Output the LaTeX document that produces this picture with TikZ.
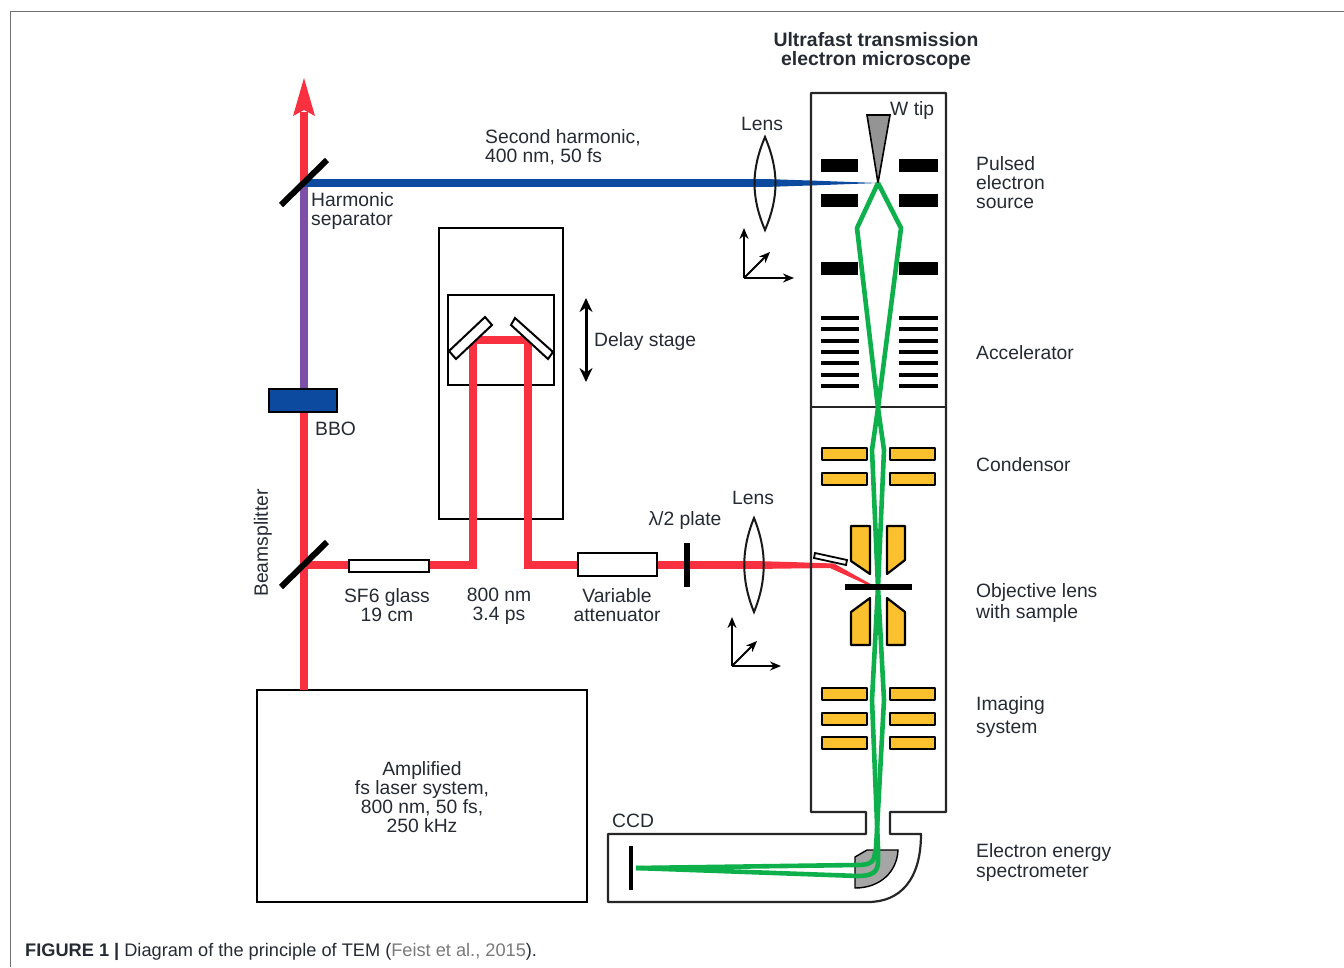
\documentclass[tikz,border=0pt]{standalone}
\usepackage{fontspec}
\setmainfont{Liberation Sans}
\usetikzlibrary{arrows.meta}
\definecolor{redbeam}{HTML}{F9303F}
\definecolor{bluebeam}{HTML}{0B4A9E}
\definecolor{purplebeam}{HTML}{7D4FA8}
\definecolor{greenbeam}{HTML}{0DB04B}
\definecolor{gold}{HTML}{FBC02D}
\definecolor{txt}{HTML}{262B33}
\definecolor{framegray}{HTML}{707070}
\definecolor{citegray}{HTML}{7A7A7A}
\tikzset{
  x=1pt,y=-1pt,
  lbl/.style={font=\fontsize{19.3}{19}\selectfont,text=txt,inner sep=0pt,align=center},
  lbll/.style={lbl,align=left,anchor=west},
  box/.style={draw=black,line width=2pt},
  housing/.style={draw=black!85,line width=2.2pt},
  redb/.style={draw=redbeam,line width=8pt,line cap=butt,line join=miter},
  greenb/.style={draw=greenbeam,line width=4.6pt,line join=round},
  goldbox/.style={draw=black,line width=2.2pt,fill=gold,line join=round},
  blackbar/.style={fill=black},
  axis/.style={draw=black,line width=2pt,-{Stealth[length=11pt,width=9pt]}},
  lensshape/.style={draw=black!90,line width=2pt,fill=none},
  mirror/.style={draw=black,line width=6pt},
}
\begin{document}
\begin{tikzpicture}
\useasboundingbox (0,0) rectangle (1344,967);
\fill[white] (0,0) rectangle (1344,967);
% page frame
\draw[framegray,line width=1pt] (1344,11) -- (10,11) -- (10,967);
% laser box
\draw[box] (257,690) rectangle (587,902);
% delay stage boxes
\draw[box] (439,228) rectangle (563,519);
\draw[box] (448,295) rectangle (554,385);
% left beam line
\draw[redb] (304,690) -- (304,389);
\draw[draw=purplebeam,line width=8pt] (304,389) -- (304,183);
\draw[redb] (304,183) -- (304,112);
\fill[redbeam] (304,78) -- (315,116) -- (304,110) -- (293,116) -- cycle;
\draw[draw=bluebeam,line width=8pt] (304,183) -- (765,183);
\fill[bluebeam] (765,179) -- (810,180.5) -- (878,183) -- (810,185.5) -- (765,187) -- cycle;
\draw[black,line width=1.5pt,fill=bluebeam] (269,389) rectangle (337,412);
% red path with delay
\draw[redb] (304,565) -- (473,565) -- (473,340) -- (528,340) -- (528,565) -- (754,565);
\fill[redbeam] (754,561) -- (790,562) -- (834,563.5) -- (876,587) -- (874,588) -- (830,568) -- (790,568.5) -- (754,569) -- cycle;
% mirrors of delay stage
\draw[black,line width=2pt,fill=white] (485,317) -- (492,325) -- (456,359) -- (449,351) -- cycle;
\draw[black,line width=2pt,fill=white] (515,318) -- (553,352) -- (548,359) -- (511,325) -- cycle;
% delay arrow
\draw[black,line width=3pt,{Stealth[length=14pt,width=13pt]}-{Stealth[length=14pt,width=13pt]}] (586,298) -- (586,382);
% optics on the beams
\draw[mirror] (281,205) -- (327,160);
\draw[mirror] (281,587) -- (327,542);
\draw[box,fill=white] (349,560) rectangle (429,572);
\draw[box,fill=white] (578,553) rectangle (657,576);
\draw[black,line width=6pt] (687,543) -- (687,587);
% lenses
\draw[lensshape] (765,137) .. controls (751,170) and (751,197) .. (765,230) .. controls (779,197) and (779,170) .. (765,137) -- cycle;
\draw[lensshape] (754,518) .. controls (741,550) and (741,580) .. (754,612) .. controls (767,580) and (767,550) .. (754,518) -- cycle;
% axes
\coordinate (ax1) at (744,278);
\coordinate (ax2) at (732,666);
\draw[axis] (ax1) -- (744,228);
\draw[axis] (ax1) -- (794,278);
\draw[axis] (ax1) -- (770,252);
\draw[axis] (ax2) -- (732,617);
\draw[axis] (ax2) -- (781,666);
\draw[axis] (ax2) -- (757,641);
% spectrometer housing and column
\draw[housing,line join=round] (866,812) -- (811,812) -- (811,93) -- (946,93) -- (946,812) -- (890,812) -- (890,834) -- (921,834)
  .. controls (921,880) and (900,902) .. (868,902) -- (608,902) -- (608,834) -- (866,834) -- cycle;
\draw[housing] (811,407) -- (946,407);
% column elements
\foreach \y in {159,194,262}{
  \fill[blackbar] (821,\y) rectangle (858,\y+13);
  \fill[blackbar] (899,\y) rectangle (938,\y+13);
}
\foreach \y in {318,329.3,340.6,351.9,363.2,374.5,385.8}{
  \fill[blackbar] (821,\y-2) rectangle (859,\y+2);
  \fill[blackbar] (899,\y-2) rectangle (938,\y+2);
}
\foreach \y in {448,473,688,713,737}{
  \draw[goldbox] (822,\y) rectangle (867,\y+12);
  \draw[goldbox] (890,\y) rectangle (935,\y+12);
}
% objective pole pieces
\draw[goldbox] (851,526) -- (870,526) -- (870,574) -- (851,561) -- cycle;
\draw[goldbox] (887,526) -- (905,526) -- (905,560) -- (887,574) -- cycle;
\draw[goldbox] (870,598) -- (851,612) -- (851,645) -- (870,645) -- cycle;
\draw[goldbox] (887,598) -- (905,612) -- (905,645) -- (887,645) -- cycle;
% W tip
\draw[black,line width=1.6pt,fill=black!42] (867,115) -- (890,115) -- (878,183) -- cycle;
% sample holder
\draw[black,line width=1.8pt,fill=white] (815,553) -- (847,560) -- (846,565) -- (814,558) -- cycle;
% magnet
\draw[black,line width=1.4pt,fill=black!35] (867,850) -- (898,850) .. controls (897,872) and (880,888) .. (855,888) -- (855,857) -- cycle;
% green beams
\draw[greenb] (878,183) -- (857,228) -- (878,408) -- (884,450) -- (878,587) -- (872,700) -- (878,848) -- (878,862) .. controls (878,872) and (872,876) .. (858,876) -- (636,868);
\draw[greenb] (878,183) -- (901,228) -- (878,408) -- (872,450) -- (878,587) -- (884,700) -- (876,848) -- (874,858) .. controls (872,864) and (866,865) .. (856,865) -- (636,868);
% sample plane
\fill[blackbar] (845,584) rectangle (912,590);
% CCD
\draw[black,line width=3.4pt] (631,846) -- (631,890);
% labels
\node[lbl,font=\fontsize{19.4}{19}\selectfont\bfseries] (title) at (876,51) {Ultrafast transmission\\electron microscope};
\node[lbll] (wtip) at (890,111) {W tip};
\node[lbl] (lens1) at (762,124) {Lens};
\node[lbl] (lens2) at (753,498) {Lens};
\node[lbll] (shg) at (485,147.5) {Second harmonic,\\400 nm, 50 fs};
\node[lbll] (sep) at (311,211) {Harmonic\\separator};
\node[lbll] (bbo) at (315,429) {BBO};
\node[lbl,rotate=90] (bs) at (263,543) {Beamsplitter};
\node[lbll] (delay) at (594,342) {Delay stage};
\node[lbl] (sf6) at (387,605) {SF6 glass\\19 cm};
\node[lbl] (nm) at (499,606) {800 nm\\3.4 ps};
\node[lbl] (att) at (617,605) {Variable\\attenuator};
\node[lbl] (plate) at (685,521) {λ/2 plate};
\node[lbl] (amp) at (422,797) {Amplified\\fs laser system,\\800 nm, 50 fs,\\250 kHz};
\node[lbll] (ccd) at (612,821) {CCD};
\node[lbll] (src) at (976,183) {Pulsed\\electron\\source};
\node[lbll] (acc) at (976,353) {Accelerator};
\node[lbll] (cond) at (976,465) {Condensor};
\node[lbll,font=\fontsize{19.3}{21}\selectfont] (obj) at (976,603) {Objective lens\\with sample};
\node[lbll,font=\fontsize{19.3}{23}\selectfont] (img) at (976,717) {Imaging\\system};
\node[lbll,font=\fontsize{19.3}{20}\selectfont] (eels) at (976,862) {Electron energy\\spectrometer};
\node[lbl,anchor=west,font=\fontsize{18.2}{19}\selectfont] (cap) at (25,952) {\textbf{FIGURE 1 |} Diagram of the principle of TEM (\textcolor{citegray}{Feist et al., 2015}).};
\end{tikzpicture}
\end{document}
